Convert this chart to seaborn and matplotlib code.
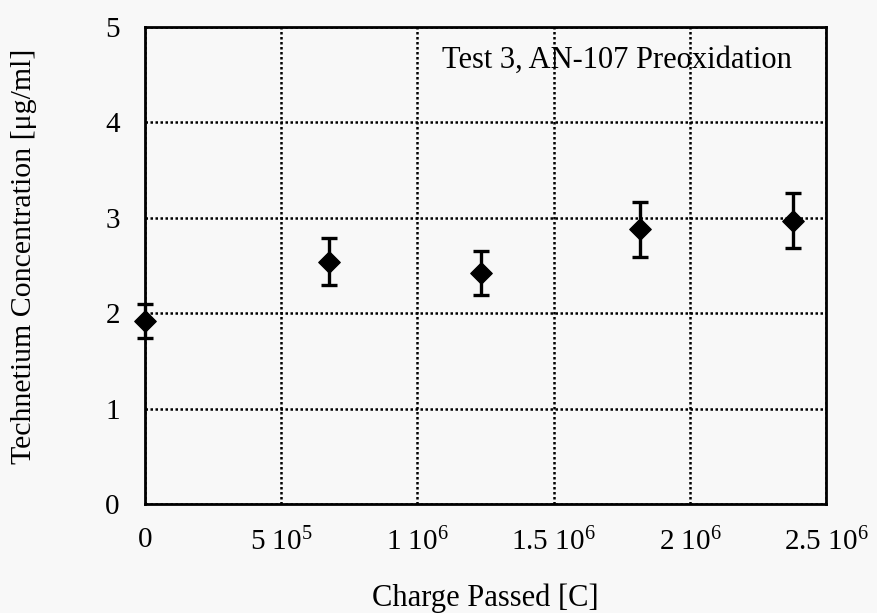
import matplotlib
matplotlib.use("Agg")
import matplotlib.pyplot as plt
import seaborn as sns
import pandas as pd

charge = [0, 6.75e5, 1.235e6, 1.815e6, 2.38e6]
conc = [1.92, 2.54, 2.42, 2.88, 2.97]
err = [0.18, 0.25, 0.23, 0.29, 0.29]
xticks = [0, 5e5, 1e6, 1.5e6, 2e6, 2.5e6]
xticklabels = ["0", r"5 10$^{5}$", r"1 10$^{6}$", r"1.5 10$^{6}$", r"2 10$^{6}$", r"2.5 10$^{6}$"]
yticks = [0, 1, 2, 3, 4, 5]

sns.set_theme(style="white")
plt.rcParams['font.family'] = ['Liberation Serif', 'DejaVu Serif']
plt.rcParams['mathtext.fontset'] = 'custom'
plt.rcParams['mathtext.rm'] = 'Liberation Serif'
plt.rcParams['mathtext.it'] = 'Liberation Serif:italic'

bg = '#f8f8f8'
fig = plt.figure(figsize=(8.78, 6.13), dpi=100, facecolor=bg)
ax = fig.add_axes([0.165, 0.178, 0.776, 0.778])
ax.set_facecolor(bg)

df = pd.DataFrame({"charge": charge, "conc": conc, "err": err})
ax.errorbar(df["charge"], df["conc"], yerr=df["err"], fmt='none', ecolor='black',
            elinewidth=2.4, capsize=6, capthick=2.4, zorder=3, clip_on=False)
sns.scatterplot(data=df, x="charge", y="conc", marker='D', s=120, color='black',
                edgecolor='black', ax=ax, zorder=4, clip_on=False)

ax.set_xlim(0, 2.5e6)
ax.set_ylim(0, 5)
ax.set_xticks(xticks)
ax.set_xticklabels(xticklabels)
ax.set_yticks(yticks)
ax.grid(True, color='black', linestyle=(0, (1, 1.0)), linewidth=1.8)
ax.tick_params(axis='both', length=0, labelsize=21, colors='black')
ax.tick_params(axis='x', pad=17)
ax.tick_params(axis='y', pad=18)
for s in ax.spines.values():
    s.set_color('black')
    s.set_linewidth(2)

ax.set_xlabel("Charge Passed [C]", fontsize=22, color='black')
ax.set_ylabel("Technetium Concentration [μg/ml]", fontsize=21.5, color='black')
ax.xaxis.set_label_coords(0.5, -0.166)
ax.yaxis.set_label_coords(-0.159, 0.52)
ax.text(0.436, 0.914, "Test 3, AN-107 Preoxidation", transform=ax.transAxes,
        fontsize=22, color='black', va='baseline', ha='left')

fig.savefig("out.png", dpi=100, facecolor=bg)
